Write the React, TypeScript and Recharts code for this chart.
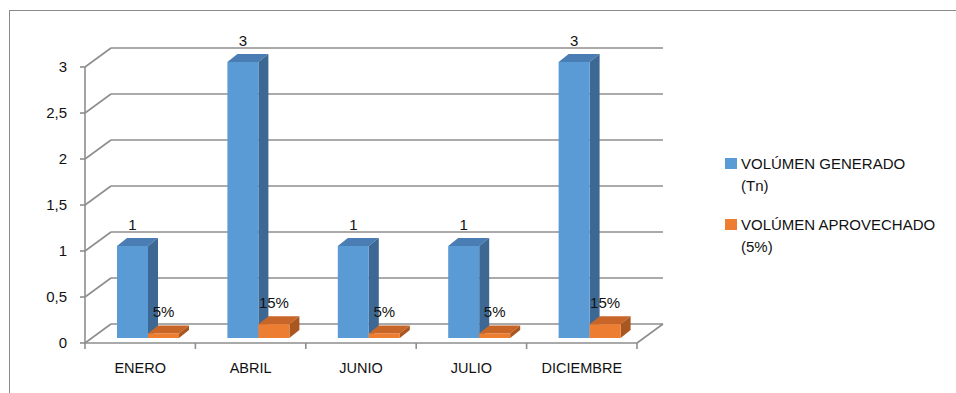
import { Bar, BarChart, CartesianGrid, LabelList, Legend, XAxis, YAxis } from "recharts";

const months = ['ENERO', 'ABRIL', 'JUNIO', 'JULIO', 'DICIEMBRE'];
const generado = [1, 3, 1, 1, 3];
const aprovechado = [0.05, 0.15, 0.05, 0.05, 0.15];
const yTicks = [0, 0.5, 1, 1.5, 2, 2.5, 3];

const SERIES_GEN = 'VOLÚMEN GENERADO (Tn)';
const SERIES_APR = 'VOLÚMEN APROVECHADO (5%)';
const seriesOrder = [SERIES_GEN, SERIES_APR];

// layout (bar plane = recharts plot area, front/back planes are offsets of it)
const W = 956;
const H = 393;
const PLOT_LEFT = 93;
const PLOT_RIGHT = 645;
const PLOT_TOP = 62;
const PLOT_BOTTOM = 338;
const YAXIS_W = 60;
const XAXIS_H = 30;
const FRONT_DX = -8;
const FRONT_DY = 5;
const BACK_DX = 26;
const BACK_DY = -19;
const DEPTH_X = 10;
const DEPTH_Y = 8;
const GRID = '#8e8e8e';
const FONT = '"Liberation Sans", Arial, sans-serif';
const TXT = '#111';

const data = months.map((m, i) => ({ name: m, gen: generado[i], apr: aprovechado[i] }));

const Box3D = (props: any) => {
  const { x, y, width, height, fill, side, top } = props;
  if (x == null || y == null) return null;
  const r = x + width;
  const b = y + height;
  return (
    <g>
      <polygon points={`${x},${y} ${x + DEPTH_X},${y - DEPTH_Y} ${r + DEPTH_X},${y - DEPTH_Y} ${r},${y}`} fill={top} />
      <polygon points={`${r},${y} ${r + DEPTH_X},${y - DEPTH_Y} ${r + DEPTH_X},${b - DEPTH_Y} ${r},${b}`} fill={side} />
      <rect x={x} y={y} width={width} height={height} fill={fill} />
    </g>
  );
};

const GridLine = (props: any) => {
  const { x1, x2, y1 } = props;
  const fx = x1 + FRONT_DX;
  const fxr = x2 + FRONT_DX;
  const fy = y1 + FRONT_DY;
  const bx = fx + BACK_DX;
  const by = fy + BACK_DY;
  const isFloor = Math.abs(y1 - PLOT_BOTTOM) < 1;
  return (
    <g stroke={GRID} strokeWidth={1.6} fill="none">
      <line x1={fx - 5} y1={fy} x2={fx} y2={fy} />
      <line x1={fx} y1={fy} x2={bx} y2={by} />
      <line x1={bx} y1={by} x2={fxr + BACK_DX} y2={by} />
      {isFloor && (
        <>
          <line x1={fx} y1={fy} x2={fxr} y2={fy} />
          <line x1={fxr} y1={fy} x2={fxr + BACK_DX} y2={by} />
          <line x1={fx} y1={fy} x2={fx} y2={PLOT_TOP + FRONT_DY} />
        </>
      )}
    </g>
  );
};

const YTick = (props: any) => {
  const { y, payload } = props;
  return (
    <text x={PLOT_LEFT + FRONT_DX - 18} y={y + FRONT_DY} dy={5} textAnchor="end" fill={TXT} fontSize={15} fontFamily={FONT}>
      {String(payload.value).replace('.', ',')}
    </text>
  );
};

const XTick = (props: any) => {
  const { x, payload, index } = props;
  const band = (PLOT_RIGHT - PLOT_LEFT) / months.length;
  const fx = x + FRONT_DX;
  const fy = PLOT_BOTTOM + FRONT_DY;
  return (
    <g>
      <line x1={fx - band / 2} y1={fy} x2={fx - band / 2} y2={fy + 6} stroke={GRID} strokeWidth={1.6} />
      {index === months.length - 1 && (
        <line x1={fx + band / 2} y1={fy} x2={fx + band / 2} y2={fy + 6} stroke={GRID} strokeWidth={1.6} />
      )}
      <text x={fx} y={fy + 30} textAnchor="middle" fill={TXT} fontSize={14.5} fontFamily={FONT}>
        {payload.value}
      </text>
    </g>
  );
};

const renderLegend = (props: any) => {
  const payload = [...(props.payload || [])].sort(
    (a: any, b: any) => seriesOrder.indexOf(String(a.value)) - seriesOrder.indexOf(String(b.value))
  );
  return (
    <div style={{ fontFamily: FONT, fontSize: 15, color: TXT, lineHeight: '22px' }}>
      {payload.map((entry: any, i: number) => {
        const name = String(entry.value);
        const cut = name.indexOf(' (');
        return (
          <div key={`leg-${i}`} style={{ display: 'flex', marginBottom: 17 }}>
            <div style={{ width: 12, height: 11, background: entry.color, marginTop: 5, marginRight: 4, flexShrink: 0 }} />
            <div>
              <div>{cut > 0 ? name.slice(0, cut) : name}</div>
              {cut > 0 && <div>{name.slice(cut + 1)}</div>}
            </div>
          </div>
        );
      })}
    </div>
  );
};

const pct = (v: any) => `${Math.round(Number(v) * 100)}%`;

export default function App() {
  return (
    <div style={{ position: 'absolute', left: 0, top: 0, width: W, height: H, background: '#fff', overflow: 'hidden' }}>
      <div style={{ position: 'absolute', left: 9, top: 10, width: W, height: H, borderLeft: '1px solid #8a8a8a', borderTop: '1px solid #8a8a8a' }} />
      <BarChart
        width={W}
        height={H}
        data={data}
        barGap={0}
        barSize={31}
        margin={{ top: PLOT_TOP, right: W - PLOT_RIGHT, bottom: H - PLOT_BOTTOM - XAXIS_H, left: PLOT_LEFT - YAXIS_W }}
        style={{ position: 'absolute', left: 0, top: 0 }}
      >
        <CartesianGrid vertical={false} horizontal={(p: any) => <GridLine {...p} />} />
        <XAxis dataKey="name" height={XAXIS_H} axisLine={false} tickLine={false} tick={<XTick />} interval={0} />
        <YAxis width={YAXIS_W} domain={[0, 3]} ticks={yTicks} axisLine={false} tickLine={false} tick={<YTick />} />
        <Legend
          layout="vertical"
          align="center"
          verticalAlign="middle"
          content={renderLegend}
          wrapperStyle={{ left: 725, top: 153, width: 230 }}
        />
        <Bar dataKey="gen" name={SERIES_GEN} fill="#5B9BD5" isAnimationActive={false}
          shape={(p: any) => <Box3D {...p} fill="#5B9BD5" side="#3D6893" top="#4A7DB3" />}>
          <LabelList dataKey="gen" position="top" offset={16} fill={TXT} fontSize={15} fontFamily={FONT} />
        </Bar>
        <Bar dataKey="apr" name={SERIES_APR} fill="#ED7D31" isAnimationActive={false}
          shape={(p: any) => <Box3D {...p} fill="#ED7D31" side="#A9561F" top="#C8662A" />}>
          <LabelList dataKey="apr" position="top" offset={16} fill={TXT} fontSize={15} fontFamily={FONT} formatter={pct} />
        </Bar>
      </BarChart>
    </div>
  );
}
